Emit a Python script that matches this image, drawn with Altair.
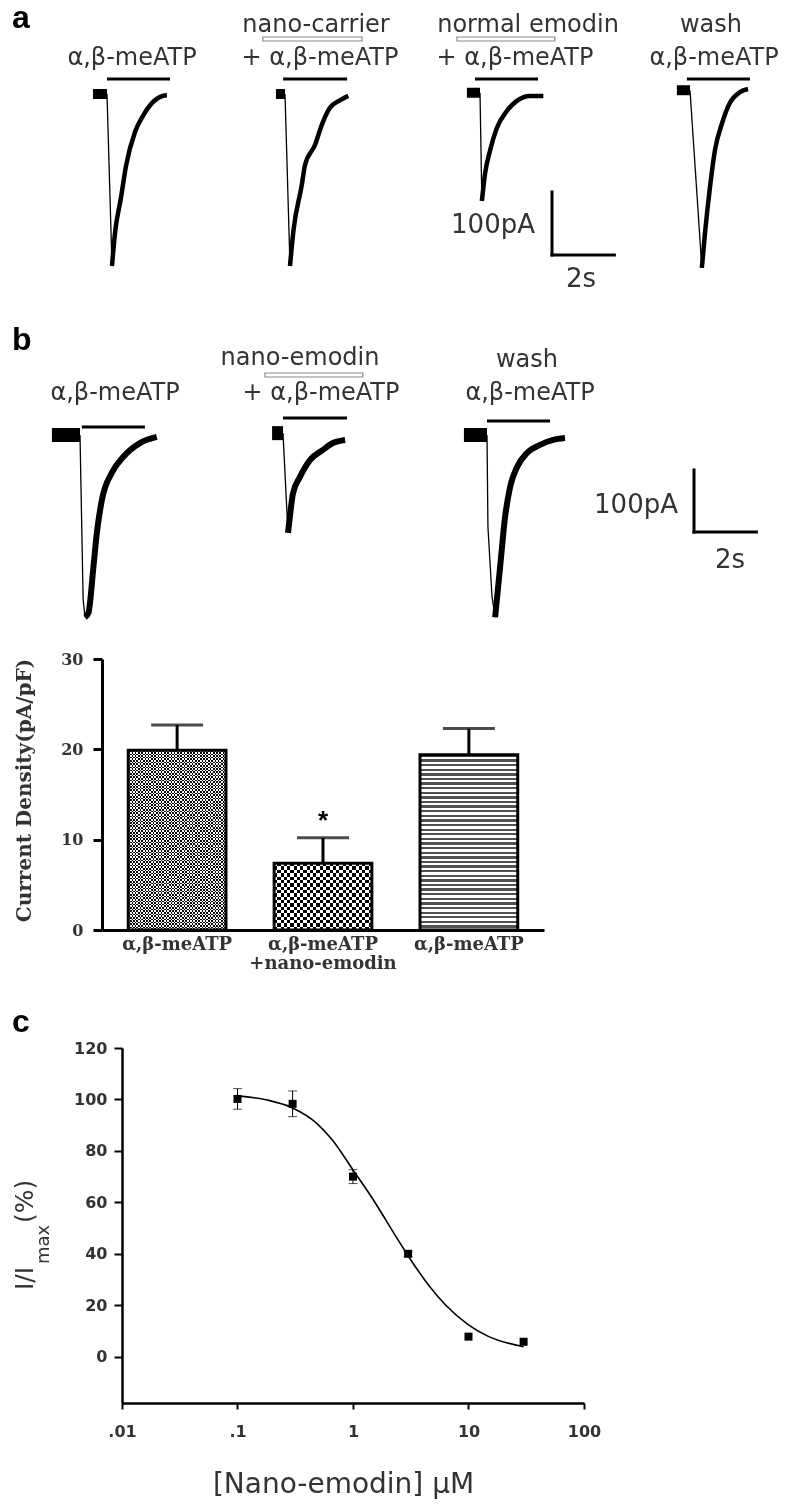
import json
import altair as alt
import pandas as pd

# ------------------------------------------------------------------
# DATA
# ------------------------------------------------------------------
# Panel a: current traces, time in s from agonist onset, current in pA
a_names = ["a1", "a2", "a3", "a4"]
a1_t = [-0.45, 0.0, 0.16, 0.26, 0.44, 0.61, 0.90, 1.15, 1.47, 1.79, 1.92]
a1_i = [0, 0, -273, -219, -167, -114, -60, -35, -13, -3, -2]
a2_t = [-0.29, 0.0, 0.16, 0.27, 0.54, 0.64, 0.96, 1.18, 1.44, 1.76, 2.03]
a2_i = [0, 0, -273, -217, -144, -113, -81, -49, -22, -10, -3]
a3_t = [-0.42, 0.0, 0.06, 0.16, 0.32, 0.54, 0.86, 1.18, 1.60, 2.03]
a3_i = [2, 2, -170, -127, -90, -54, -27, -11, -3, -3]
a4_t = [-0.42, 0.0, 0.38, 0.48, 0.64, 0.80, 1.03, 1.28, 1.60, 1.86]
a4_i = [6, 6, -276, -221, -148, -89, -46, -14, 3, 8]
# agonist application (s from onset)
a_app_start = [0.0, -0.06, -0.16, -0.10]
a_app_end = [2.02, 1.99, 1.86, 1.92]
# pre-application of carrier / emodin (s); None = absent
a_pre_start = [None, -0.71, -0.74, None]
a_pre_end = [None, 2.47, 2.40, None]

# Panel b traces
b_names = ["b1", "b2", "b3"]
b1_t = [-0.90, 0.0, 0.10, 0.16, 0.27, 0.43, 0.54, 0.70, 1.02, 1.39, 1.92, 2.46]
b1_i = [0, 0, -265, -294, -287, -213, -158, -105, -61, -35, -13, -3]
b2_t = [-0.35, 0.0, 0.16, 0.22, 0.32, 0.54, 0.87, 1.28, 1.60, 1.99]
b2_i = [3, 3, -158, -132, -94, -68, -40, -24, -13, -8]
b3_t = [-0.74, 0.0, 0.03, 0.16, 0.26, 0.42, 0.58, 0.74, 0.96, 1.28, 1.70, 2.12, 2.50]
b3_i = [0, 0, -148, -260, -294, -213, -132, -84, -52, -29, -16, -8, -5]
b_app_start = [0.06, 0.0, 0.0]
b_app_end = [2.08, 2.05, 2.02]
b_pre_start = [None, -0.58, None]
b_pre_end = [None, 2.56, None]

SCALE_PA = 100   # scale bar, pA
SCALE_S = 2      # scale bar, s

# Panel b bar chart
bar_groups = ["ctrl", "nano", "wash"]
bar_tick_labels = [["α,β-meATP"], ["α,β-meATP", "+nano-emodin"], ["α,β-meATP"]]
bar_mean = [19.9, 7.4, 19.4]
bar_sem = [2.8, 2.8, 2.9]
bar_sig = ["", "*", ""]

# Panel c dose response
dose_x = [0.1, 0.3, 1, 3, 10, 30]
dose_y = [100.2, 98.3, 70.0, 40.0, 7.8, 5.8]
dose_err = [4.0, 5.0, 2.7, 1.0, 0.0, 0.0]
fit_x = [0.1, 0.18, 0.3, 0.48, 0.66, 1.0, 1.46, 1.92, 2.5, 3.2, 4.5, 6.3, 10, 15, 30]
fit_y = [101.4, 99.8, 96.7, 90.9, 84.3, 72.6, 61.8, 53.2, 44.8, 37.3, 27.9, 20.2, 12.4, 7.8, 3.9]

# ------------------------------------------------------------------
# LAYOUT (page pixels)
# ------------------------------------------------------------------
W, H, OFF = 772, 1492, 8


def L(v):
    return v - OFF


TPX = 31.2                      # px per second (both trace rows)
K_A, BASE_A = 0.63, 94          # px per pA, baseline y (row a)
K_B, BASE_B = 0.62, 435         # row b
A_ONSET_PX = [107, 285, 480, 690]
B_ONSET_PX = [80, 283, 487]
A_APP_Y = [79, 79, 79, 79]
B_APP_Y = [427, 418, 421]
A_PRE_Y = [39, 39, 39, 39]
B_PRE_Y = [375, 375, 375]
A_SB = (552, 255)
B_SB = (694, 532)

TXT = "#333333"


def trace_rows(names, ts, cs, onsets):
    rows = []
    for name, t, c, opx in zip(names, ts, cs, onsets):
        on = L(opx) / TPX
        k0 = t.index(0.0)
        kp = c.index(min(c))
        for k, (tt, ii) in enumerate(zip(t, c)):
            segs = []
            if k <= k0:
                segs.append("base")
            if k0 <= k <= kp:
                segs.append("fall")
            if k >= kp:
                segs.append("rise")
            for s in segs:
                rows.append({"trace": name, "seg": s, "k": k, "tx": tt + on, "I": ii})
    return pd.DataFrame(rows)


def span_rows(names, starts, ends, onsets, ys, base, K, half=0.0):
    rows = []
    for name, s, e, opx, ypx in zip(names, starts, ends, onsets, ys):
        if s is None:
            continue
        on = L(opx) / TPX
        rows.append({"trace": name, "xs": s + on, "xe": e + on,
                     "y": (base - ypx) / K, "y1": (base - (ypx - half)) / K,
                     "y2": (base - (ypx + half)) / K})
    return pd.DataFrame(rows)


def scalebar_rows(pos, base, K):
    x0 = L(pos[0]) / TPX
    i0 = (base - pos[1]) / K
    return pd.DataFrame([
        {"x": x0, "x2": x0, "y": i0, "y2": i0 + SCALE_PA},
        {"x": x0, "x2": x0 + SCALE_S, "y": i0, "y2": i0},
    ])


def row_chart(tr, app, pre, sb, base, K, w_base, w_rise):
    xs = alt.Scale(domain=[0, W / TPX], nice=False, zero=False)
    ys = alt.Scale(domain=[-400, 150], range=[L(base) + 400 * K, L(base) - 150 * K],
                   nice=False, zero=False)

    def X(f):
        return alt.X(f, type="quantitative", scale=xs, axis=None)

    def Y(f):
        return alt.Y(f, type="quantitative", scale=ys, axis=None)

    layers = []
    for seg, w, interp in [("base", w_base, "linear"), ("fall", 1.3, "linear"),
                           ("rise", w_rise, "monotone")]:
        layers.append(
            alt.Chart(tr).transform_filter(alt.datum.seg == seg)
            .mark_line(color="black", strokeWidth=w, strokeJoin="round", interpolate=interp)
            .encode(x=X("tx"), y=Y("I"), detail="trace:N", order="k:Q"))
    layers.append(alt.Chart(app).mark_rule(color="black", strokeWidth=3)
                  .encode(x=X("xs"), x2="xe", y=Y("y")))
    layers.append(alt.Chart(pre).mark_rect(fill="white", stroke="#8a8a8a", strokeWidth=1.2)
                  .encode(x=X("xs"), x2="xe", y=Y("y1"), y2="y2"))
    layers.append(alt.Chart(sb).mark_rule(color="black", strokeWidth=3, strokeCap="square")
                  .encode(x=X("x"), x2="x2", y=Y("y"), y2="y2"))
    return alt.layer(*layers)


rowA = row_chart(
    trace_rows(a_names, [a1_t, a2_t, a3_t, a4_t], [a1_i, a2_i, a3_i, a4_i], A_ONSET_PX),
    span_rows(a_names, a_app_start, a_app_end, A_ONSET_PX, A_APP_Y, BASE_A, K_A),
    span_rows(a_names, a_pre_start, a_pre_end, A_ONSET_PX, A_PRE_Y, BASE_A, K_A, half=2),
    scalebar_rows(A_SB, BASE_A, K_A), BASE_A, K_A, 10, 4.5)

rowB = row_chart(
    trace_rows(b_names, [b1_t, b2_t, b3_t], [b1_i, b2_i, b3_i], B_ONSET_PX),
    span_rows(b_names, b_app_start, b_app_end, B_ONSET_PX, B_APP_Y, BASE_B, K_B),
    span_rows(b_names, b_pre_start, b_pre_end, B_ONSET_PX, B_PRE_Y, BASE_B, K_B, half=2),
    scalebar_rows(B_SB, BASE_B, K_B), BASE_B, K_B, 14, 6)

# ------------------------------------------------------------------
# Bar chart
# ------------------------------------------------------------------
bar_df = pd.DataFrame({"group": bar_groups, "mean": bar_mean, "sem": bar_sem, "sig": bar_sig})

label_expr = json.dumps(bar_tick_labels[-1], ensure_ascii=False)
for g, lab in reversed(list(zip(bar_groups[:-1], bar_tick_labels[:-1]))):
    label_expr = f"datum.value == '{g}' ? {json.dumps(lab, ensure_ascii=False)} : ({label_expr})"

xs_b = alt.Scale(domain=bar_groups, range=[L(102), L(544)], paddingInner=0.33, paddingOuter=0.18)
ys_b = alt.Scale(domain=[0, 30], range=[L(930), L(659)], nice=False, zero=False)
xax_b = alt.Axis(orient="bottom", offset=L(930) - H, domainColor="black", domainWidth=3,
                 ticks=False, tickSize=0, labelAngle=0, labelFont="DejaVu Serif",
                 labelFontWeight="bold", labelFontSize=18, labelColor=TXT, labelPadding=5,
                 labelLineHeight=19, labelExpr=label_expr, title=None, grid=False)
yax_b = alt.Axis(orient="left", offset=-L(102), values=[0, 10, 20, 30], domainColor="black",
                 domainWidth=3, tickColor="black", tickWidth=3, tickSize=9,
                 labelFont="DejaVu Serif", labelFontWeight="bold", labelFontSize=16,
                 labelColor=TXT, labelPadding=10, title="Current Density(pA/pF)",
                 titleFont="DejaVu Serif", titleFontWeight="bold", titleFontSize=20,
                 titleColor=TXT, titleAngle=270, titleX=24 - 102, titleY=L(790),
                 titleAlign="center", titleBaseline="middle", grid=False)


def XB():
    return alt.X("group:N", scale=xs_b, axis=xax_b)


def YB(f):
    return alt.Y(f, type="quantitative", scale=ys_b, axis=yax_b)


def stripes(n, c1, c2, along_x):
    stops = []
    for j in range(n):
        a, m, b = j / n, (j + 0.5) / n, (j + 1) / n
        stops += [{"offset": a, "color": c1}, {"offset": m, "color": c1},
                  {"offset": m, "color": c2}, {"offset": b, "color": c2}]
    return {"gradient": "linear", "stops": stops, "x1": 0, "y1": 0,
            "x2": 1 if along_x else 0, "y2": 0 if along_x else 1}


CLEAR = "rgba(0,0,0,0)"
bar_base = alt.Chart(bar_df).transform_calculate(top="datum.mean + datum.sem",
                                                 star="datum.mean + datum.sem + 1.0")


def pat(group, fill, blend=None):
    kw = {"fill": fill, "strokeWidth": 0}
    if blend:
        kw["blend"] = blend
    return (bar_base.transform_filter(alt.datum.group == group)
            .mark_bar(**kw).encode(x=XB(), y=YB("mean")))


bars = alt.layer(
    pat("ctrl", stripes(30, "black", "white", True)),
    pat("ctrl", stripes(55, "white", CLEAR, False), "difference"),
    pat("nano", stripes(15, "black", "white", True)),
    pat("nano", stripes(10, "white", CLEAR, False), "difference"),
    pat("wash", stripes(38, "#505050", "white", False)),
    bar_base.mark_bar(fillOpacity=0, stroke="black", strokeWidth=3).encode(x=XB(), y=YB("mean")),
    bar_base.mark_rule(color="black", strokeWidth=3).encode(x=XB(), y=YB("mean"), y2="top:Q"),
    bar_base.mark_tick(color="black", thickness=3, size=52, orient="horizontal")
    .encode(x=XB(), y=YB("top")),
    bar_base.transform_filter(alt.datum.sig != "")
    .mark_text(font="Liberation Sans", fontSize=26, fontWeight="bold", baseline="alphabetic",
               color="black").encode(x=XB(), y=YB("star"), text="sig:N"),
)

# ------------------------------------------------------------------
# Dose response
# ------------------------------------------------------------------
dose_df = pd.DataFrame({"x": dose_x, "y": dose_y, "err": dose_err})
fit_df = pd.DataFrame({"x": fit_x, "y": fit_y})

xs_d = alt.Scale(type="log", domain=[0.01, 100], range=[L(122), L(584)], nice=False)
ys_d = alt.Scale(domain=[-18, 120], range=[L(1403), L(1048)], nice=False, zero=False)
xax_d = alt.Axis(orient="bottom", offset=L(1403) - H, values=[0.01, 0.1, 1, 10, 100], format="~g",
                 labelExpr="datum.value < 1 ? slice(datum.label, 1) : datum.label",
                 domainColor="black", domainWidth=2.5, tickColor="black", tickWidth=2,
                 tickSize=6, labelFont="DejaVu Sans", labelFontWeight="bold", labelFontSize=16,
                 labelColor=TXT, labelPadding=14, labelFlush=False, labelOverlap=False,
                 title="[Nano-emodin] μM", titleFont="DejaVu Sans", titleFontWeight="normal",
                 titleFontSize=28, titleColor=TXT, titleX=L(343), titleY=1492 - 1403,
                 titleAlign="center", titleBaseline="alphabetic", grid=False)
yax_d = alt.Axis(orient="left", offset=-L(122), values=[0, 20, 40, 60, 80, 100, 120],
                 domainColor="black", domainWidth=2.5, tickColor="black", tickWidth=2,
                 tickSize=8, labelFont="DejaVu Sans", labelFontWeight="bold", labelFontSize=16,
                 labelColor=TXT, labelPadding=7, title=None, grid=False)


def XD(f):
    return alt.X(f, type="quantitative", scale=xs_d, axis=xax_d)


def YD(f):
    return alt.Y(f, type="quantitative", scale=ys_d, axis=yax_d)


err_base = (alt.Chart(dose_df).transform_filter("datum.err > 0")
            .transform_calculate(lo="datum.y - datum.err", hi="datum.y + datum.err"))
dose = alt.layer(
    alt.Chart(fit_df).mark_line(color="black", strokeWidth=1.6, interpolate="monotone")
    .encode(x=XD("x"), y=YD("y")),
    err_base.mark_rule(color="black", strokeWidth=1).encode(x=XD("x"), y=YD("lo"), y2="hi:Q"),
    err_base.transform_fold(["lo", "hi"], as_=["end", "yc"])
    .mark_tick(color="black", thickness=1, size=9, orient="horizontal")
    .encode(x=XD("x"), y=YD("yc")),
    alt.Chart(dose_df).mark_square(size=64, color="black", opacity=1)
    .encode(x=XD("x"), y=YD("y")),
)

# ------------------------------------------------------------------
# Text annotations (page px, baseline)
# ------------------------------------------------------------------
TEXT_LABELS = [
    ("α,β-meATP", 132, 65), ("nano-carrier", 316, 32), ("+ α,β-meATP", 320, 65),
    ("normal emodin", 528, 32), ("+ α,β-meATP", 515, 65), ("wash", 711, 32),
    ("α,β-meATP", 714, 65),
    ("α,β-meATP", 115, 400), ("nano-emodin", 300, 365), ("+ α,β-meATP", 321, 400),
    ("wash", 527, 367), ("α,β-meATP", 530, 400),
]
TEXT_SCALE_R = [("100pA", 535, 233), ("100pA", 678, 513)]
TEXT_SCALE_C = [("2s", 581, 287), ("2s", 730, 568)]
TEXT_LETTERS = [("a", 12, 28), ("b", 12, 350), ("c", 12, 1032)]


def text_layer(items, align, size, font="DejaVu Sans", weight="normal", color=TXT, angle=0):
    df = pd.DataFrame([{"text": t, "x": L(x), "y": L(y)} for t, x, y in items])
    mk = dict(align=align, baseline="alphabetic", font=font, fontSize=size,
              fontWeight=weight, color=color)
    if angle:
        mk["angle"] = angle
    return alt.Chart(df).mark_text(**mk).encode(
        x=alt.X("x:Q", scale=None, axis=None), y=alt.Y("y:Q", scale=None, axis=None),
        text="text:N")


texts = [
    text_layer(TEXT_LABELS, "center", 24),
    text_layer(TEXT_SCALE_R, "right", 26),
    text_layer(TEXT_SCALE_C, "center", 26),
    text_layer(TEXT_LETTERS, "left", 32, font="Liberation Sans", weight="bold", color="black"),
    text_layer([("I/I", 33, 1290)], "left", 25, angle=270),
    text_layer([("max", 49, 1264)], "left", 18, angle=270),
    text_layer([("(%)", 33, 1223)], "left", 25, angle=270),
]

chart = (
    alt.layer(rowA, rowB, bars, dose, *texts)
    .resolve_scale(x="independent", y="independent")
    .resolve_axis(x="independent", y="independent")
    .properties(width=W, height=H, padding=0, autosize=alt.AutoSizeParams(type="none"))
    .configure_view(strokeWidth=0)
    .configure_axis(grid=False)
)

chart.save("out.html", embed_options={"renderer": "svg", "actions": False})
